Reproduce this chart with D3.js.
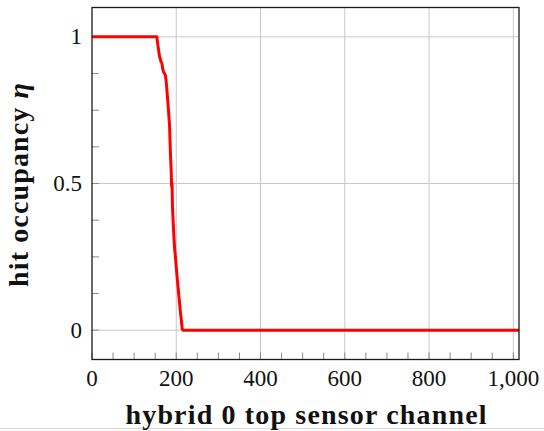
<!DOCTYPE html>
<html>
<head>
<meta charset="utf-8">
<script src="https://cdn.jsdelivr.net/npm/d3@7"></script>
<style>
    body { margin: 0; background: #fff; }
    text { font-family: "Liberation Serif", "Times New Roman", serif; fill: #111; }
</style>
</head>
<body>
<div id="chart"></div>
<script>
// occupancy per channel (flat at 1, steep drop around 150-215, then 0)
const channels = [0, 152, 154, 156, 158, 160, 162, 164, 166, 168, 170, 172, 174, 176, 178, 180,
    182, 184, 186, 188, 189, 190, 191, 192, 194, 196, 198, 200, 202, 204, 206, 208, 210, 212, 214, 216, 1023];
const occupancy = [1, 1, 1, 0.975, 0.955, 0.935, 0.925, 0.915, 0.91, 0.89, 0.88, 0.875, 0.87, 0.85, 0.815, 0.78,
    0.74, 0.70, 0.61, 0.54, 0.49, 0.50, 0.42, 0.39, 0.33, 0.28, 0.25, 0.215, 0.18, 0.15, 0.12, 0.09, 0.06, 0.035, 0.005, 0, 0];

const xTicks = [0, 200, 400, 600, 800, 1000];
const xMinorTicks = d3.range(50, 1001, 50).filter(t => t % 200 !== 0);
const yTicks = [0, 0.5, 1];
const yMinorTicks = [0.125, 0.25, 0.375, 0.625, 0.75, 0.875];

const width = 544;
const height = 431;
const margins = {
    top: 7.5,
    left: 92,
    right: 25,
    bottom: 71.5
}

// pgfplots style number format with comma thousands separator
const formatTick = t => t >= 1000 ? d3.format(",")(t) : String(t);

const svg = d3.select("#chart")
    .append("svg")
        .attr("width", width)
        .attr("height", height);

const x = d3.scaleLinear()
    .domain([0, 1013.5])
    .range([margins.left, width - margins.right]);

const y = d3.scaleLinear()
    .domain([-0.1, 1.1])
    .range([height - margins.bottom, margins.top]);

// page edge line at the very bottom
svg.append("line")
    .attr("x1", 0).attr("x2", width)
    .attr("y1", 428.5).attr("y2", 428.5)
    .attr("stroke", "#d9d9d9");

// grid
const grid = svg.append("g").attr("stroke", "#c8c8c8").attr("stroke-width", 1);
grid.selectAll("line.gx")
    .data(xTicks.filter(t => t > 0))
    .join("line")
        .attr("x1", d => x(d)).attr("x2", d => x(d))
        .attr("y1", y.range()[0]).attr("y2", y.range()[1]);
grid.selectAll("line.gy")
    .data(yTicks)
    .join("line")
        .attr("x1", x.range()[0]).attr("x2", x.range()[1])
        .attr("y1", d => y(d)).attr("y2", d => y(d));

// ticks (inside, only left and bottom)
const tickLen = 7;
const ticks = svg.append("g").attr("stroke", "#8a8a8a").attr("stroke-width", 1);
ticks.selectAll("line.tx")
    .data(xTicks.concat(xMinorTicks))
    .join("line")
        .attr("x1", d => x(d)).attr("x2", d => x(d))
        .attr("y1", y.range()[0]).attr("y2", y.range()[0] - tickLen);
ticks.selectAll("line.ty")
    .data(yTicks.concat(yMinorTicks))
    .join("line")
        .attr("x1", x.range()[0]).attr("x2", x.range()[0] + tickLen)
        .attr("y1", d => y(d)).attr("y2", d => y(d));

// the data line
svg.append("clipPath")
    .attr("id", "plotClip")
    .append("rect")
        .attr("x", x.range()[0]).attr("y", y.range()[1])
        .attr("width", x.range()[1] - x.range()[0])
        .attr("height", y.range()[0] - y.range()[1]);

const line = d3.line()
    .x(i => x(channels[i]))
    .y(i => y(occupancy[i]));

svg.append("path")
    .datum(d3.range(channels.length))
    .attr("clip-path", "url(#plotClip)")
    .attr("fill", "none")
    .attr("stroke", "#ff0000")
    .attr("stroke-width", 3)
    .attr("stroke-linejoin", "round")
    .attr("d", line);

// axis box
svg.append("rect")
    .attr("x", x.range()[0]).attr("y", y.range()[1])
    .attr("width", x.range()[1] - x.range()[0])
    .attr("height", y.range()[0] - y.range()[1])
    .attr("fill", "none")
    .attr("stroke", "#1a1a1a")
    .attr("stroke-width", 1.3);

// tick labels
svg.append("g")
    .selectAll("text")
    .data(xTicks)
    .join("text")
        .attr("x", d => x(d))
        .attr("y", 386)
        .attr("text-anchor", "middle")
        .style("font-size", "23px")
        .text(formatTick);

svg.append("g")
    .selectAll("text")
    .data(yTicks)
    .join("text")
        .attr("x", 82)
        .attr("y", d => y(d))
        .attr("dy", "0.33em")
        .attr("text-anchor", "end")
        .style("font-size", "23px")
        .text(d => String(d));

// axis labels
svg.append("text")
    .attr("x", 306)
    .attr("y", 424)
    .attr("text-anchor", "middle")
    .attr("font-weight", "bold")
    .attr("textLength", 361)
    .attr("lengthAdjust", "spacing")
    .style("font-size", "28px")
    .text("hybrid 0 top sensor channel");

const yLabel = svg.append("text")
    .attr("transform", "translate(28, 185) rotate(-90)")
    .attr("text-anchor", "middle")
    .attr("font-weight", "bold")
    .attr("textLength", 204)
    .attr("lengthAdjust", "spacing")
    .style("font-size", "28px");
yLabel.append("tspan").text("hit occupancy ");
yLabel.append("tspan").attr("font-style", "italic").text("η");
</script>
</body>
</html>
